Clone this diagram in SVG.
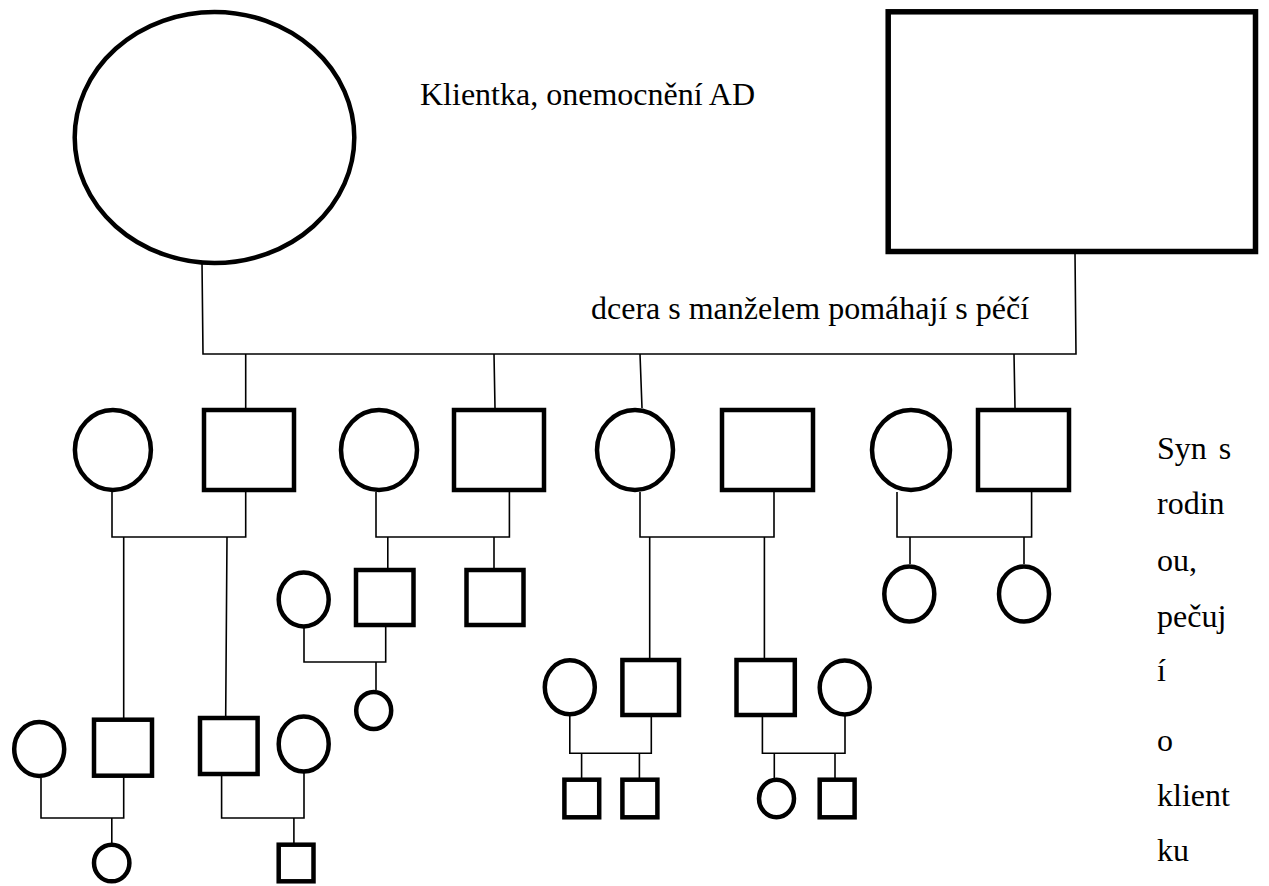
<svg xmlns="http://www.w3.org/2000/svg" width="1269" height="886" viewBox="0 0 1269 886">
<style>
.s{fill:#fff;stroke:#000;stroke-width:4.5}
.b{fill:#fff;stroke:#000;stroke-width:5.5}
.c{fill:none;stroke:#000;stroke-width:1.6}
</style>
<rect width="1269" height="886" fill="#fff"/>
<g id="connectors">
<path class="c" d="M202,262 L203,354 L1076,354 L1075,253"/>
<path class="c" d="M245.7,354 V408 M494,354 L495,408 M640,354 L642,408 M1014,354 L1015,408"/>
<path class="c" d="M112,492 V537 H245.7 V492 M123.7,537 V718 M227,537 L225.7,716"/>
<path class="c" d="M376,492 V537 H509.4 V492 M387.8,537 V568 M494,537 V568"/>
<path class="c" d="M640,492 V537 H774 V492 M649.7,537 V658 M764.4,537 V658"/>
<path class="c" d="M897,492 V537 H1031.6 V492 M910,537 V564 M1024,537 V564"/>
<path class="c" d="M304,628 V662 H385.7 V627 M376,662 V690"/>
<path class="c" d="M41,778 V818 H123.7 V777 M111.8,818 V843"/>
<path class="c" d="M221.6,776 V818 H304 V773 M293.9,818 V843"/>
<path class="c" d="M569.8,716 V753.3 H651.3 V717 M581.6,753.3 V778 M639.4,753.3 V778"/>
<path class="c" d="M762.4,717 V753.3 H845 V716 M774.3,753.3 V778 M835,753.3 V778"/>
</g>
<g id="client"><ellipse class="s" cx="214.5" cy="137.5" rx="139.8" ry="125.5"/></g>
<g id="husband"><rect class="b" x="888.2" y="11.8" width="367.3" height="239.7"/></g>
<g font-family="'Liberation Serif', 'Times New Roman', serif" font-size="32" fill="#000">
<g id="label-client"><text x="420" y="105">Klientka, onemocnění AD</text></g>
<g id="label-daughter"><text x="591" y="319">dcera s manželem pomáhají s péčí</text></g>
<g id="label-son">
<text x="1157" y="459" word-spacing="4">Syn s</text>
<text x="1157" y="514">rodin</text>
<text x="1157" y="571">ou,</text>
<text x="1157" y="627">pečuj</text>
<text x="1157" y="681">í</text>
<text x="1157" y="751">o</text>
<text x="1157" y="806">klient</text>
<text x="1157" y="861">ku</text>
</g>
</g>
<g id="g2-f1"><ellipse class="s" cx="112.9" cy="450" rx="38" ry="40"/></g>
<g id="g2-m1"><rect class="s" x="204" y="410" width="90" height="80"/></g>
<g id="g2-f2"><ellipse class="s" cx="379" cy="450" rx="38" ry="40"/></g>
<g id="g2-m2"><rect class="s" x="454" y="410" width="90" height="80"/></g>
<g id="g2-f3"><ellipse class="s" cx="635" cy="450" rx="38" ry="40"/></g>
<g id="g2-m3"><rect class="s" x="722" y="410" width="91" height="80"/></g>
<g id="g2-f4"><ellipse class="s" cx="911" cy="450" rx="39" ry="40"/></g>
<g id="g2-m4"><rect class="s" x="978" y="410" width="91" height="80"/></g>
<g id="g3-f1"><ellipse class="s" cx="303.7" cy="599.5" rx="25" ry="27"/></g>
<g id="g3-m1"><rect class="s" x="356" y="570" width="57.5" height="55"/></g>
<g id="g3-m2"><rect class="s" x="466.5" y="570" width="57" height="55"/></g>
<g id="g4-f1"><ellipse class="s" cx="373.7" cy="710.5" rx="17.5" ry="18.5"/></g>
<g id="g3-f2"><ellipse class="s" cx="909.3" cy="594" rx="25" ry="27.5"/></g>
<g id="g3-f3"><ellipse class="s" cx="1024" cy="594" rx="25" ry="27.5"/></g>
<g id="g3-f4"><ellipse class="s" cx="39.2" cy="749" rx="25" ry="27"/></g>
<g id="g3-m3"><rect class="s" x="94" y="719.7" width="58" height="56"/></g>
<g id="g3-m4"><rect class="s" x="200" y="718" width="57.6" height="56"/></g>
<g id="g3-f5"><ellipse class="s" cx="303.7" cy="744" rx="25" ry="27.5"/></g>
<g id="g4-f2"><ellipse class="s" cx="111.7" cy="863" rx="17.7" ry="18.3"/></g>
<g id="g4-m1"><rect class="s" x="278.7" y="844.7" width="34.8" height="36.6"/></g>
<g id="g3-f6"><ellipse class="s" cx="569.8" cy="687.3" rx="25" ry="27"/></g>
<g id="g3-m5"><rect class="s" x="622.4" y="660" width="56.6" height="55"/></g>
<g id="g3-m6"><rect class="s" x="736.5" y="660" width="58.3" height="55"/></g>
<g id="g3-f7"><ellipse class="s" cx="844.7" cy="687.5" rx="25" ry="27"/></g>
<g id="g4-m2"><rect class="s" x="564.4" y="779.7" width="34.8" height="37.6"/></g>
<g id="g4-m3"><rect class="s" x="622.4" y="779.7" width="35" height="37.6"/></g>
<g id="g4-f3"><ellipse class="s" cx="776.5" cy="798.5" rx="17.5" ry="18.8"/></g>
<g id="g4-m4"><rect class="s" x="819.7" y="779.7" width="34.9" height="37.6"/></g>
</svg>
